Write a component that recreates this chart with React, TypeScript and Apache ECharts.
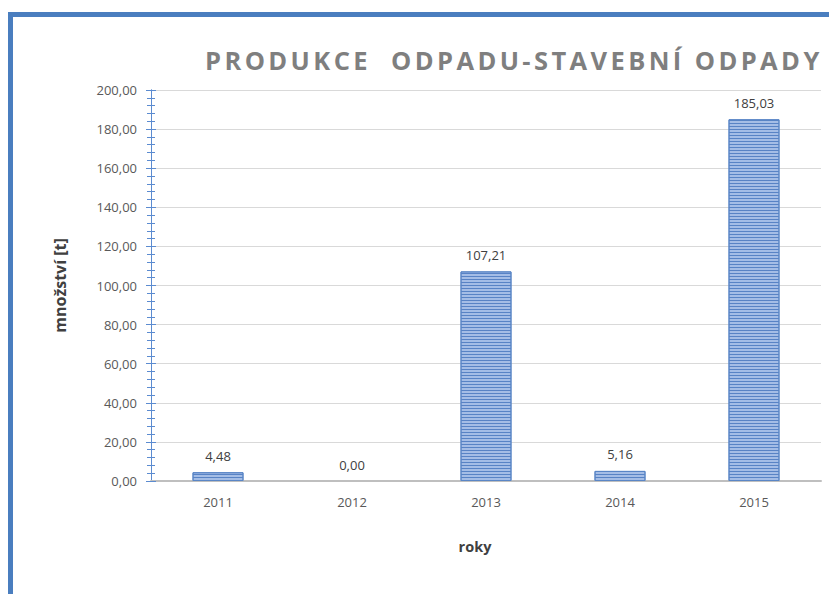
import React, { useEffect, useRef } from "react";
import * as echarts from "echarts";

const categories = ["2011", "2012", "2013", "2014", "2015"];
const values = [4.48, 0.0, 107.21, 5.16, 185.03];
const titleText = "PRODUKCE  ODPADU-STAVEBNÍ ODPADY";
const yAxisName = "množství [t]";
const xAxisName = "roky";

const fmt = (v: number) => v.toFixed(2).replace(".", ",");

export default function App() {
  const ref = useRef<HTMLDivElement>(null);
  useEffect(() => {
    if (!ref.current) return;
    const chart = echarts.init(ref.current, null, { renderer: "svg" });
    const font = "'Open Sans', sans-serif";
    const yBase = {
      type: "value" as const,
      min: 0,
      max: 200,
      interval: 20,
      position: "left" as const,
      offset: 0,
      axisLine: { show: true, lineStyle: { color: "#5b8bd0", width: 1 } },
      minorTick: { show: true, splitNumber: 5, length: 4, lineStyle: { color: "#5b8bd0", width: 1 } },
    };
    chart.setOption({
      animation: false,
      backgroundColor: "#ffffff",
      title: {
        text: titleText,
        left: 200,
        top: 42,
        textStyle: { fontFamily: font, fontSize: 25.5, fontWeight: "bold", color: "#7f7f7f" },
      },
      graphic: [
        {
          type: "rect",
          shape: { x: 10.5, y: 14.5, width: 1200, height: 1200 },
          style: { fill: "none", stroke: "#4a7ebf", lineWidth: 5 },
          silent: true,
          z: 100,
        },
      ],
      grid: { left: 151, right: 8, top: 90, bottom: 113 },
      xAxis: {
        type: "category",
        data: categories,
        axisLine: { show: true, lineStyle: { color: "#bfbfbf", width: 2 } },
        axisTick: { show: false },
        axisLabel: { margin: 14, color: "#595959", fontFamily: font, fontSize: 13 },
        name: xAxisName,
        nameLocation: "middle",
        nameGap: 58,
        nameTextStyle: { fontFamily: font, fontSize: 14.5, fontWeight: "bold", color: "#404040", padding: [0, 22, 0, 0] },
      },
      yAxis: [
        {
          ...yBase,
          axisTick: { show: true, length: 5, inside: false, lineStyle: { color: "#5b8bd0", width: 1 } },
          axisLabel: { margin: 14, color: "#595959", fontFamily: font, fontSize: 13, formatter: (v: number) => fmt(v) },
          splitLine: { show: true, lineStyle: { color: "#d9d9d9", width: 1 } },
          name: yAxisName,
          nameLocation: "middle",
          nameGap: 83,
          nameRotate: 90,
          nameTextStyle: { fontFamily: font, fontSize: 16, fontWeight: "bold", color: "#404040" },
        },
        {
          ...yBase,
          axisTick: { show: true, length: 5, inside: true, lineStyle: { color: "#5b8bd0", width: 1 } },
          axisLabel: { show: false },
          splitLine: { show: false },
        },
      ],
      series: [
        {
          type: "bar",
          data: values.map((v) => ({ value: v, itemStyle: v === 0 ? { borderWidth: 0 } : {} })),
          barWidth: 51,
          itemStyle: {
            color: "#a4bde6",
            borderColor: "#5a86c6",
            borderWidth: 1,
            decal: {
              symbol: "rect",
              symbolSize: 1,
              color: "#5883c5",
              dashArrayX: [1, 0],
              dashArrayY: [1, 2],
              rotation: 0,
            },
          },
          label: {
            show: true,
            position: "top",
            distance: 10,
            color: "#404040",
            fontFamily: font,
            fontSize: 13,
            formatter: (p: any) => fmt(p.value),
          },
        },
      ],
    });
    return () => chart.dispose();
  }, []);
  return (
    <>
      <style>{`svg text[style*="25.5px"]{letter-spacing:3.4px}`}</style>
      <div ref={ref} style={{ position: "absolute", left: 0, top: 0, width: 829, height: 594 }} />
    </>
  );
}
